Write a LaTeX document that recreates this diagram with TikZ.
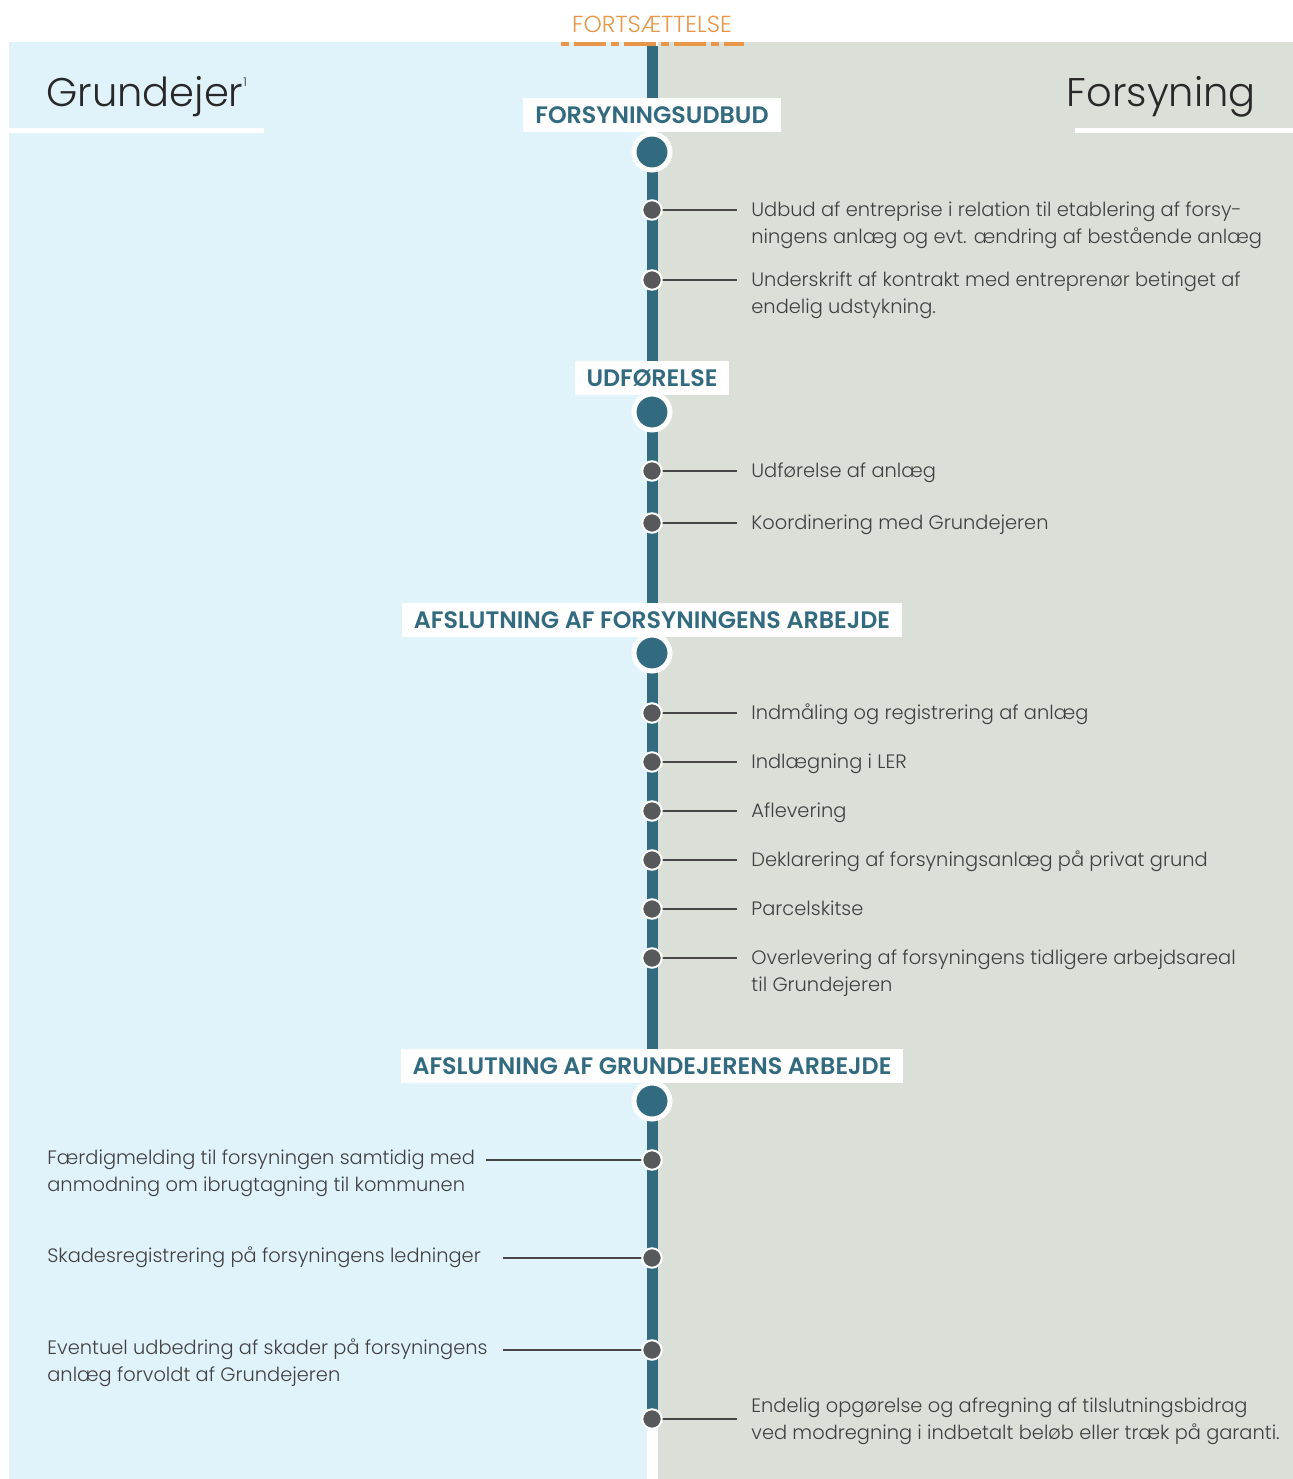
\documentclass[tikz,border=0pt]{standalone}
\usepackage{fontspec}
\setmainfont{Poppins}[UprightFont=* Light,BoldFont=* SemiBold]
\begin{document}
\begin{tikzpicture}[x=0.5pt,y=-0.5pt,
  bigdot/.style={circle,draw=white,line width=2.5pt,fill=barColor,minimum size=18pt,inner sep=0pt},
  smalldot/.style={circle,draw=white,line width=1pt,fill=dotColor,minimum size=9.75pt,inner sep=0pt},
  phase/.style={fill=white,text=barColor,font=\fontsize{11.9}{13}\bfseries,inner xsep=6pt,inner ysep=0pt,minimum height=17pt},
  item/.style={text=textColor,anchor=base west,align=left,inner sep=0pt,font=\fontsize{9.7}{13.5}\selectfont},
  title/.style={text=titleColor,inner sep=0pt,font=\fontsize{20}{24}\selectfont},
  leader/.style={draw=lineColor,line width=0.55pt}]
\definecolor{fillColor}{RGB}{255,255,255}
\definecolor{leftColor}{RGB}{224,243,250}
\definecolor{rightColor}{RGB}{218,223,216}
\definecolor{barColor}{RGB}{50,106,128}
\definecolor{dotColor}{RGB}{88,89,91}
\definecolor{textColor}{RGB}{64,64,64}
\definecolor{titleColor}{RGB}{40,40,40}
\definecolor{lineColor}{RGB}{70,70,70}
\definecolor{accentColor}{RGB}{232,150,74}
\path[use as bounding box,fill=fillColor] (0,0) rectangle (1293,1479);

\path[fill=leftColor] (9,42) rectangle (647,1479);

\path[fill=rightColor] (658,42) rectangle (1293,1479);

\path[fill=barColor] (647,46) rectangle (658,1419);

\path[fill=fillColor] (9,128) rectangle (264,133);

\path[fill=fillColor] (1075,128) rectangle (1293,133);

\node[title,anchor=base west] (own) at (46,106) {Grundejer\raisebox{10pt}{\fontsize{6}{6}\selectfont 1}};

\node[title,anchor=base east] (util) at (1256,106) {Forsyning};

\node[text=accentColor,anchor=base,inner sep=0pt,font=\fontsize{11.6}{13}\selectfont] (cont) at (652,32) {FORTSÆTTELSE};

\path[draw=accentColor,line width=1.75pt,dash pattern=on 4pt off 2.5pt on 16pt off 2.5pt] (561,44) -- (744,44);

% phases along the line
\node[phase] (h1) at (652,115) {FORSYNINGSUDBUD};
\node[bigdot] (b1) at (652,152) {};

\node[phase] (h2) at (652,378) {UDFØRELSE};
\node[bigdot] (b2) at (652,412) {};

\node[phase] (h3) at (652,620) {AFSLUTNING AF FORSYNINGENS ARBEJDE};
\node[bigdot] (b3) at (652,653) {};

\node[phase] (h4) at (652,1066) {AFSLUTNING AF GRUNDEJERENS ARBEJDE};
\node[bigdot] (b4) at (652,1101) {};

% tasks of the utility: dot y, first text line y, lines (base anchor sits on the last line)
\foreach \n/\y/\ty/\l/\txt in {
  1/210/210/2/{Udbud af entreprise i relation til etablering af forsy-\\ningens anlæg og evt. ændring af bestående anlæg},
  2/280/280/2/{Underskrift af kontrakt med entreprenør betinget af\\endelig udstykning.},
  3/471/471/1/{Udførelse af anlæg},
  4/523/523/1/{Koordinering med Grundejeren},
  5/713/713/1/{Indmåling og registrering af anlæg},
  6/762/762/1/{Indlægning i LER},
  7/811/811/1/{Aflevering},
  8/860/860/1/{Deklarering af forsyningsanlæg på privat grund},
  9/909/909/1/{Parcelskitse},
  10/958/958/2/{Overlevering af forsyningens tidligere arbejdsareal\\til Grundejeren},
  11/1419/1406/2/{Endelig opgørelse og afregning af tilslutningsbidrag\\ved modregning i indbetalt beløb eller træk på garanti.}}{
  \coordinate (e\n) at (737,\y);
  \draw[leader] (652,\y) -- (e\n);
  \node[smalldot] (p\n) at (652,\y) {};
  \node[item] (t\n) at (751,{\ty+6+27*(\l-1)}) {\txt};
}

% tasks of the land owner
\foreach \n/\y/\x/\l/\txt in {
  1/1160/486/2/{Færdigmelding til forsyningen samtidig med\\anmodning om ibrugtagning til kommunen},
  2/1258/503/1/{Skadesregistrering på forsyningens ledninger},
  3/1350/503/2/{Eventuel udbedring af skader på forsyningens\\anlæg forvoldt af Grundejeren}}{
  \coordinate (f\n) at (\x,\y);
  \draw[leader] (f\n) -- (652,\y);
  \node[smalldot] (q\n) at (652,\y) {};
  \node[item] (s\n) at (47,{\y+4+27*(\l-1)}) {\txt};
}
\end{tikzpicture}
\end{document}
